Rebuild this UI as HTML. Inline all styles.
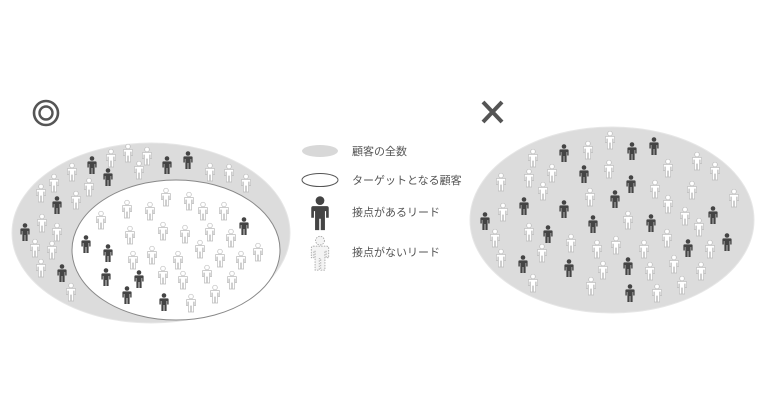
<!DOCTYPE html>
<html><head><meta charset="utf-8"><style>
html,body{margin:0;padding:0;background:#fff;width:760px;height:400px;overflow:hidden}
svg{display:block}
text{font-family:"Liberation Sans","Noto Sans CJK JP",sans-serif;font-size:11px;fill:#555}
.d{fill:#444}
.l{fill:#fff;stroke:#bbb;stroke-width:0.7}
</style></head><body>
<svg width="760" height="400" viewBox="0 0 760 400" xmlns="http://www.w3.org/2000/svg">
<defs>
<g id="p">
<circle cx="0" cy="-6.5" r="2.3"/>
<path d="M-3.6,-3.6 H3.6 Q4.6,-3.6 4.6,-2.6 V2.5 H3.2 V-1 H2.6 V9 H0.4 V3 H-0.4 V9 H-2.6 V-1 H-3.2 V2.5 H-4.6 V-2.6 Q-4.6,-3.6 -3.6,-3.6 Z"/>
</g>
</defs>

<!-- double circle -->
<circle cx="46" cy="113" r="12" fill="none" stroke="#555" stroke-width="2.6"/>
<circle cx="46" cy="113" r="6.5" fill="none" stroke="#555" stroke-width="2.4"/>
<!-- X -->
<path d="M483,102 L502,122 M502,102 L483,122" stroke="#555" stroke-width="4"/>

<!-- left ellipses -->
<ellipse cx="151" cy="233" rx="139" ry="90" fill="#dcdcdc" stroke="#e6e6e6"/>
<ellipse cx="176" cy="250" rx="104" ry="70" fill="#fff" stroke="#888" stroke-width="1"/>
<!-- right ellipse -->
<ellipse cx="612" cy="220" rx="142" ry="93" fill="#dcdcdc" stroke="#e6e6e6"/>

<!-- left dark -->
<g class="d">
<use href="#p" x="92" y="165"/><use href="#p" x="108" y="177"/><use href="#p" x="167" y="165"/><use href="#p" x="188" y="160"/>
<use href="#p" x="57" y="205"/><use href="#p" x="25" y="232"/><use href="#p" x="62" y="273"/><use href="#p" x="86" y="244"/>
<use href="#p" x="108" y="253"/><use href="#p" x="106" y="277"/><use href="#p" x="139" y="279"/><use href="#p" x="127" y="295"/>
<use href="#p" x="164" y="302"/><use href="#p" x="244" y="226"/>
</g>
<g class="l">
<use href="#p" x="72" y="172"/><use href="#p" x="54" y="183"/><use href="#p" x="41" y="193"/><use href="#p" x="111" y="158"/>
<use href="#p" x="128" y="153"/><use href="#p" x="147" y="156"/><use href="#p" x="139" y="170"/><use href="#p" x="89" y="187"/>
<use href="#p" x="76" y="200"/><use href="#p" x="210" y="172"/><use href="#p" x="229" y="173"/><use href="#p" x="246" y="183"/>
<use href="#p" x="42" y="223"/><use href="#p" x="57" y="232"/><use href="#p" x="35" y="248"/><use href="#p" x="52" y="250"/>
<use href="#p" x="41" y="268"/><use href="#p" x="71" y="292"/><use href="#p" x="258" y="252"/>
<use href="#p" x="166" y="197"/><use href="#p" x="189" y="201"/><use href="#p" x="127" y="209"/><use href="#p" x="150" y="211"/>
<use href="#p" x="203" y="211"/><use href="#p" x="224" y="211"/><use href="#p" x="101" y="220"/><use href="#p" x="130" y="235"/>
<use href="#p" x="163" y="231"/><use href="#p" x="185" y="234"/><use href="#p" x="210" y="232"/><use href="#p" x="231" y="238"/>
<use href="#p" x="200" y="249"/><use href="#p" x="152" y="255"/><use href="#p" x="133" y="260"/><use href="#p" x="178" y="260"/>
<use href="#p" x="220" y="258"/><use href="#p" x="241" y="260"/><use href="#p" x="163" y="275"/><use href="#p" x="183" y="280"/>
<use href="#p" x="207" y="274"/><use href="#p" x="232" y="280"/><use href="#p" x="215" y="294"/><use href="#p" x="191" y="303"/>
</g>

<!-- right -->
<g class="d">
<use href="#p" x="564" y="153"/><use href="#p" x="632" y="151"/><use href="#p" x="654" y="146"/><use href="#p" x="584" y="174"/>
<use href="#p" x="631" y="184"/><use href="#p" x="524" y="206"/><use href="#p" x="615" y="199"/><use href="#p" x="564" y="209"/>
<use href="#p" x="485" y="221"/><use href="#p" x="593" y="224"/><use href="#p" x="651" y="223"/><use href="#p" x="713" y="215"/>
<use href="#p" x="548" y="234"/><use href="#p" x="688" y="248"/><use href="#p" x="727" y="242"/><use href="#p" x="523" y="264"/>
<use href="#p" x="569" y="268"/><use href="#p" x="628" y="266"/><use href="#p" x="630" y="293"/>
</g>
<g class="l">
<use href="#p" x="610" y="140"/><use href="#p" x="588" y="150"/><use href="#p" x="533" y="158"/><use href="#p" x="697" y="161"/>
<use href="#p" x="668" y="168"/><use href="#p" x="715" y="171"/><use href="#p" x="609" y="169"/><use href="#p" x="552" y="173"/>
<use href="#p" x="529" y="178"/><use href="#p" x="501" y="182"/><use href="#p" x="655" y="189"/><use href="#p" x="692" y="190"/>
<use href="#p" x="543" y="191"/><use href="#p" x="590" y="197"/><use href="#p" x="734" y="198"/><use href="#p" x="668" y="204"/>
<use href="#p" x="503" y="212"/><use href="#p" x="685" y="216"/><use href="#p" x="628" y="220"/><use href="#p" x="699" y="227"/>
<use href="#p" x="529" y="232"/><use href="#p" x="495" y="238"/><use href="#p" x="667" y="238"/><use href="#p" x="571" y="243"/>
<use href="#p" x="616" y="245"/><use href="#p" x="597" y="249"/><use href="#p" x="644" y="249"/><use href="#p" x="710" y="249"/>
<use href="#p" x="542" y="253"/><use href="#p" x="501" y="258"/><use href="#p" x="674" y="264"/><use href="#p" x="603" y="270"/>
<use href="#p" x="650" y="271"/><use href="#p" x="701" y="271"/><use href="#p" x="533" y="283"/><use href="#p" x="591" y="286"/>
<use href="#p" x="682" y="285"/><use href="#p" x="657" y="293"/>
</g>

<!-- legend -->
<ellipse cx="320" cy="151" rx="18" ry="6" fill="#d8d8d8"/>
<ellipse cx="320" cy="180" rx="18" ry="6.5" fill="#fff" stroke="#555" stroke-width="1"/>
<use href="#p" class="d" transform="translate(320,213) scale(1.9)"/>
<use href="#p" transform="translate(320,253) scale(1.9)" fill="#f4f4f4" stroke="#999" stroke-width="0.4" stroke-dasharray="0.8,0.6"/>
<text x="352" y="155">顧客の全数</text>
<text x="352" y="184">ターゲットとなる顧客</text>
<text x="352" y="216">接点があるリード</text>
<text x="352" y="256">接点がないリード</text>
</svg>
</body></html>
